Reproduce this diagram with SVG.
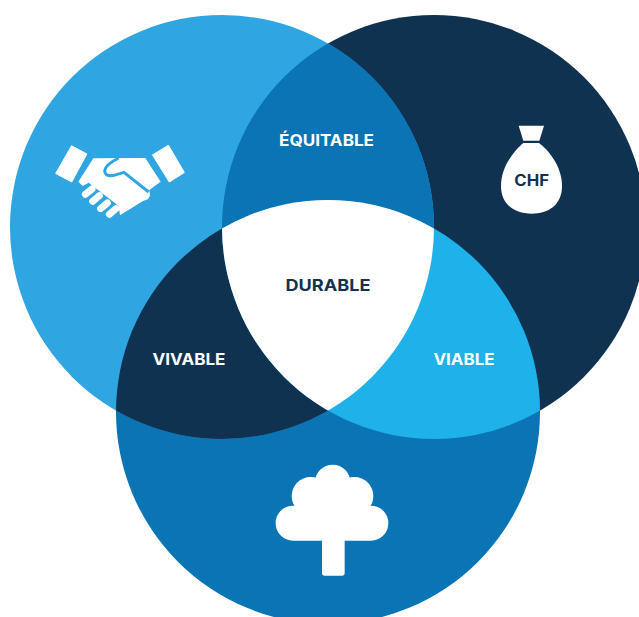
<svg xmlns="http://www.w3.org/2000/svg" width="639" height="617" viewBox="0 0 639 617">
<style>
.t{font-family:"Inter","Liberation Sans",sans-serif;font-weight:700;font-size:16px;text-anchor:middle;fill:#fff}
.d{fill:#12324f}
</style>
<defs>
<clipPath id="cl"><circle cx="222" cy="227" r="212"/></clipPath>
<clipPath id="cr"><circle cx="434" cy="227" r="212"/></clipPath>
</defs>
<rect width="639" height="617" fill="#fff"/>
<g id="circles">
<circle cx="434" cy="227" r="212" fill="#0f3251"/>
<circle cx="328" cy="412" r="212" fill="#0a74b5"/>
<circle cx="222" cy="227" r="212" fill="#2fa5e2"/>
<g clip-path="url(#cl)"><circle cx="434" cy="227" r="212" fill="#0a74b5"/><circle cx="328" cy="412" r="212" fill="#0f3251"/></g>
<g clip-path="url(#cr)"><circle cx="328" cy="412" r="212" fill="#1eb1ea"/></g>
<g clip-path="url(#cl)"><g clip-path="url(#cr)"><circle cx="328" cy="412" r="212" fill="#fff"/></g></g>
</g>
<g id="equitable"><text class="t" x="326.500" y="145.500" textLength="95" lengthAdjust="spacingAndGlyphs">ÉQUITABLE</text></g>
<g id="durable"><text class="t d" x="328" y="290.500" textLength="85" lengthAdjust="spacingAndGlyphs">DURABLE</text></g>
<g id="vivable"><text class="t" x="189" y="364.500" textLength="73" lengthAdjust="spacingAndGlyphs">VIVABLE</text></g>
<g id="viable"><text class="t" x="464" y="364.500" textLength="61" lengthAdjust="spacingAndGlyphs">VIABLE</text></g>
<g id="handshake" transform="translate(40,130) scale(.33333)" fill="#fff">
<path d="M95 48L140 72L95 155L48 130Z" stroke="#fff" stroke-width="4" stroke-linejoin="round"/>
<path d="M385 47L432 127L388 155L338 75Z" stroke="#fff" stroke-width="4" stroke-linejoin="round"/>
<path d="M115 155L160 85L316 84L362 155L328 180L330 195Q328 210 310 212L240 256L236 228L146 158L128 168Z"/>
<path d="M236 84Q196 104 194 122Q196 142 222 136L252 127L326 186" fill="none" stroke="#2fa5e2" stroke-width="9"/>
<g stroke="#fff" stroke-width="21" stroke-linecap="round"><path d="M136 193L156 177M158 214L178 197M182 236L202 219M208 253L228 236"/></g>
</g>
<g id="moneybag" transform="translate(480,110) scale(.33333)" fill="#fff">
<path d="M116 47H192L178 92H130Z"/>
<path d="M130 99H177C200 115 246 165 246 228C246 285 205 311 155 311C105 311 63 285 63 228C63 165 110 115 130 99Z"/>
<text x="155" y="227" text-anchor="middle" textLength="104" lengthAdjust="spacingAndGlyphs" style="font-family:Inter,'Liberation Sans',sans-serif;font-weight:700;font-size:46px;fill:#12324f">CHF</text>
</g>
<g id="tree" transform="translate(260,450) scale(.33333)" fill="#fff">
<circle cx="218" cy="97" r="53"/><circle cx="152" cy="138" r="57"/><circle cx="283" cy="138" r="57"/>
<rect x="47" y="167" width="338" height="105" rx="52"/>
<rect x="140" y="100" width="155" height="100"/>
<rect x="186" y="240" width="68" height="137" rx="8"/>
</g>
</svg>
